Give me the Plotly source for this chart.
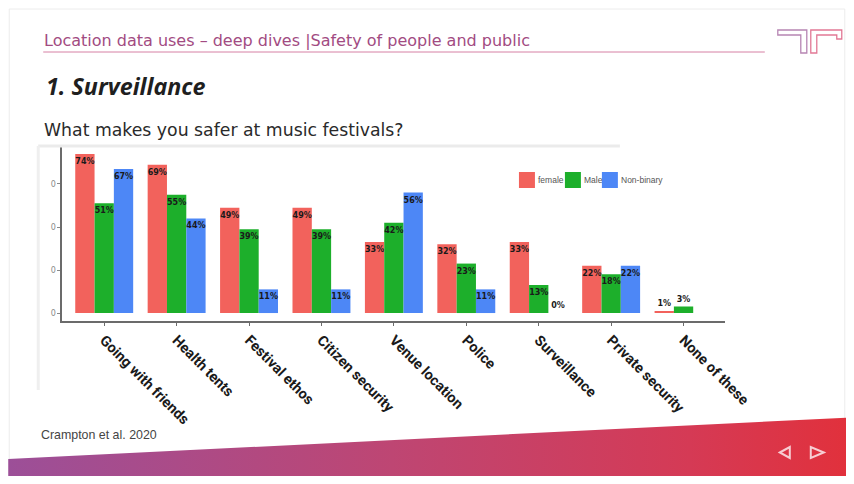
import plotly.graph_objects as go

# The page body has an 8px margin and the snapshot is squeezed horizontally
# (880px page -> 854px picture), so positions are given in picture pixels and mapped.
OFF = 8
S = 854 / 880
W, H = 864, 484 - 2 * OFF

categories = ["Going with friends", "Health tents", "Festival ethos", "Citizen security",
              "Venue location", "Police", "Surveillance", "Private security", "None of these"]
female = [74, 69, 49, 49, 33, 32, 33, 22, 1]
male = [51, 55, 39, 39, 42, 23, 13, 18, 3]
nonbinary = [67, 44, 11, 11, 56, 11, 0, 22, None]
series_names = ["female", "Male", "Non-binary"]
series_colors = ["#F2625C", "#1DAF2B", "#4D87F6"]
y_tickvals = [0, 20, 40, 60]
y_ticktext = ["0", "0", "0", "0"]

header_text = "Location data uses \u2013 deep dives |Safety of people and public"
title_text = "1. Surveillance"
question_text = "What makes you safer at music festivals?"
source_text = "Crampton et al. 2020"


def px(x):
    return (x / S - OFF) / W


def py(y):
    return 1 - (y - OFF) / H


fig = go.Figure()

for name, vals, col in zip(series_names, [female, male, nonbinary], series_colors):
    pos = ["outside" if (v is not None and v < 5) else "inside" for v in vals]
    txt = ["" if v is None else f"{v}%" for v in vals]
    fig.add_trace(go.Bar(
        x=categories, y=vals, name=name, marker=dict(color=col, line=dict(width=0)),
        text=txt, textposition=pos, insidetextanchor="end", constraintext="none",
        textangle=0,
        textfont=dict(family="DejaVu Sans", size=8, color="#1a1a1a", weight="bold"),
        cliponaxis=False, xaxis="x", yaxis="y", showlegend=False,
    ))

# decorative background band with horizontal gradient on a pixel overlay axis
fig.add_trace(go.Scatter(
    x=[8, 860, 860, 8, 8], y=[459, 417, 484, 484, 459], mode="lines",
    fill="toself", line=dict(width=0),
    fillgradient=dict(type="horizontal",
                      colorscale=[[0, "#9C4F98"], [0.45, "#BE4673"], [0.8, "#D53A55"], [1, "#E2303A"]]),
    hoverinfo="skip", showlegend=False, xaxis="x2", yaxis="y2",
))

fig.update_layout(
    width=W, height=H, margin=dict(l=0, r=0, t=0, b=0),
    paper_bgcolor="white", plot_bgcolor="rgba(0,0,0,0)",
    barmode="group", bargap=0.2, bargroupgap=0, showlegend=False,
    xaxis=dict(domain=[px(62), px(725)], range=[-0.58, 8.57], showline=True,
               linecolor="#6b6b6b", linewidth=2, ticks="outside", ticklen=3,
               tickcolor="#6b6b6b", tickangle=45, showgrid=False, zeroline=False,
               tickfont=dict(family="Roboto", size=14.5, color="#1a1a1a", weight="bold")),
    yaxis=dict(domain=[py(321), py(147)], range=[-3.7, 77.2], showline=True,
               linecolor="#6b6b6b", linewidth=1.5, ticks="outside", ticklen=3,
               tickcolor="#888", tickvals=y_tickvals, ticktext=y_ticktext,
               showgrid=False, zeroline=False,
               tickfont=dict(family="DejaVu Sans", size=8, color="#8a8a8a")),
    xaxis2=dict(domain=[0, 1], range=[OFF * S, (OFF + W) * S], visible=False, fixedrange=True),
    yaxis2=dict(domain=[0, 1], range=[OFF + H, OFF], visible=False, fixedrange=True),
)

shapes = [
    # slide frame
    dict(type="rect", xref="x2", yref="y2", x0=9, y0=9, x1=845, y1=475,
         line=dict(color="#ececec", width=1), layer="below"),
    # header underline
    dict(type="line", xref="x2", yref="y2", x0=43, y0=52, x1=765, y1=52,
         line=dict(color="#D680A4", width=1)),
    # chart image frame
    dict(type="line", xref="x2", yref="y2", x0=38, y0=146, x1=620, y1=146,
         line=dict(color="#ebebeb", width=3), layer="below"),
    dict(type="line", xref="x2", yref="y2", x0=38, y0=146, x1=38, y1=390,
         line=dict(color="#efefef", width=3), layer="below"),
    # logo
    dict(type="path", xref="x2", yref="y2",
         path="M778,30 L807,30 L807,53 L801,53 L801,35 L778,35 Z",
         line=dict(color="#B785B3", width=1.3)),
    dict(type="path", xref="x2", yref="y2",
         path="M811,53 L811,30 L842,30 L842,39 L837,39 L837,35 L817,35 L817,53 Z",
         line=dict(color="#E27895", width=1.3)),
    # navigation arrows
    dict(type="path", xref="x2", yref="y2", path="M780,452.5 L790,447 L790,458 Z",
         line=dict(color="#F7CDD3", width=2)),
    dict(type="path", xref="x2", yref="y2", path="M824,452.5 L811,447 L811,458 Z",
         line=dict(color="#F7CDD3", width=2)),
]

# legend drawn as swatches + labels
legend_x = [519, 565, 602]
for lx, col, name in zip(legend_x, series_colors, series_names):
    shapes.append(dict(type="rect", xref="x2", yref="y2", x0=lx, y0=172, x1=lx + 16, y1=188,
                       fillcolor=col, line=dict(width=0)))
    fig.add_annotation(xref="paper", yref="paper", x=px(lx + 17), y=py(180), xanchor="left",
                       yanchor="middle", showarrow=False, text=name,
                       font=dict(family="Liberation Sans", size=8.5, color="#555"))
fig.update_layout(shapes=shapes)

ann = [
    dict(text=header_text, x=px(42), y=py(41), font=dict(family="DejaVu Sans", size=16, color="#A24B82")),
    dict(text=f"<b><i>{title_text}</i></b>", x=px(44), y=py(86),
         font=dict(family="Open Sans", size=23.3, color="#1f1f1f")),
    dict(text=question_text, x=px(42), y=py(130), font=dict(family="DejaVu Sans", size=17.3, color="#2a2a2a")),
    dict(text=source_text, x=px(39), y=py(435), font=dict(family="Liberation Sans", size=12.4, color="#444")),
]
for a in ann:
    fig.add_annotation(xref="paper", yref="paper", xanchor="left", yanchor="middle",
                       showarrow=False, **a)

fig.write_html("out.html")
